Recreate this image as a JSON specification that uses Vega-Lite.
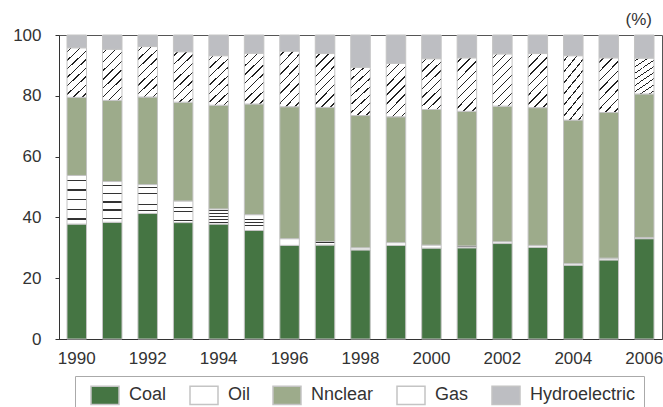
{
  "$schema": "https://vega.github.io/schema/vega-lite/v6.json",
  "width": 603,
  "height": 304,
  "autosize": {"type": "none"},
  "padding": {"left": 59, "top": 35, "right": 1, "bottom": 68},
  "background": "white",
  "title": {"text": "(%)", "anchor": "end", "frame": "group", "fontSize": 17, "fontWeight": "normal", "font": "Liberation Sans", "color": "#333", "dx": -10, "offset": -3},
  "config": {"view": {"stroke": "#555", "strokeWidth": 1}, "font": "Liberation Sans"},
  "data": {"values": [
    {"year": 1990, "source": "Coal", "value": 37.8}, {"year": 1990, "source": "Oil", "value": 16.0}, {"year": 1990, "source": "Nnclear", "value": 25.7}, {"year": 1990, "source": "Gas", "value": 16.3}, {"year": 1990, "source": "Hydroelectric", "value": 4.2},
    {"year": 1991, "source": "Coal", "value": 38.4}, {"year": 1991, "source": "Oil", "value": 13.4}, {"year": 1991, "source": "Nnclear", "value": 26.7}, {"year": 1991, "source": "Gas", "value": 16.8}, {"year": 1991, "source": "Hydroelectric", "value": 4.7},
    {"year": 1992, "source": "Coal", "value": 41.3}, {"year": 1992, "source": "Oil", "value": 9.5}, {"year": 1992, "source": "Nnclear", "value": 28.8}, {"year": 1992, "source": "Gas", "value": 16.6}, {"year": 1992, "source": "Hydroelectric", "value": 3.8},
    {"year": 1993, "source": "Coal", "value": 38.3}, {"year": 1993, "source": "Oil", "value": 7.1}, {"year": 1993, "source": "Nnclear", "value": 32.5}, {"year": 1993, "source": "Gas", "value": 16.6}, {"year": 1993, "source": "Hydroelectric", "value": 5.5},
    {"year": 1994, "source": "Coal", "value": 37.8}, {"year": 1994, "source": "Oil", "value": 5.0}, {"year": 1994, "source": "Nnclear", "value": 34.1}, {"year": 1994, "source": "Gas", "value": 16.3}, {"year": 1994, "source": "Hydroelectric", "value": 6.8},
    {"year": 1995, "source": "Coal", "value": 35.7}, {"year": 1995, "source": "Oil", "value": 5.2}, {"year": 1995, "source": "Nnclear", "value": 36.4}, {"year": 1995, "source": "Gas", "value": 16.7}, {"year": 1995, "source": "Hydroelectric", "value": 6.0},
    {"year": 1996, "source": "Coal", "value": 30.8}, {"year": 1996, "source": "Oil", "value": 2.2}, {"year": 1996, "source": "Nnclear", "value": 43.4}, {"year": 1996, "source": "Gas", "value": 18.3}, {"year": 1996, "source": "Hydroelectric", "value": 5.3},
    {"year": 1997, "source": "Coal", "value": 30.9}, {"year": 1997, "source": "Oil", "value": 1.2}, {"year": 1997, "source": "Nnclear", "value": 44.1}, {"year": 1997, "source": "Gas", "value": 17.7}, {"year": 1997, "source": "Hydroelectric", "value": 6.1},
    {"year": 1998, "source": "Coal", "value": 29.3}, {"year": 1998, "source": "Oil", "value": 0.7}, {"year": 1998, "source": "Nnclear", "value": 43.5}, {"year": 1998, "source": "Gas", "value": 15.9}, {"year": 1998, "source": "Hydroelectric", "value": 10.6},
    {"year": 1999, "source": "Coal", "value": 30.8}, {"year": 1999, "source": "Oil", "value": 0.9}, {"year": 1999, "source": "Nnclear", "value": 41.4}, {"year": 1999, "source": "Gas", "value": 17.6}, {"year": 1999, "source": "Hydroelectric", "value": 9.3},
    {"year": 2000, "source": "Coal", "value": 29.9}, {"year": 2000, "source": "Oil", "value": 1.0}, {"year": 2000, "source": "Nnclear", "value": 44.6}, {"year": 2000, "source": "Gas", "value": 16.7}, {"year": 2000, "source": "Hydroelectric", "value": 7.8},
    {"year": 2001, "source": "Coal", "value": 30.0}, {"year": 2001, "source": "Oil", "value": 0.6}, {"year": 2001, "source": "Nnclear", "value": 44.3}, {"year": 2001, "source": "Gas", "value": 17.6}, {"year": 2001, "source": "Hydroelectric", "value": 7.5},
    {"year": 2002, "source": "Coal", "value": 31.4}, {"year": 2002, "source": "Oil", "value": 0.6}, {"year": 2002, "source": "Nnclear", "value": 44.6}, {"year": 2002, "source": "Gas", "value": 17.2}, {"year": 2002, "source": "Hydroelectric", "value": 6.2},
    {"year": 2003, "source": "Coal", "value": 30.2}, {"year": 2003, "source": "Oil", "value": 0.6}, {"year": 2003, "source": "Nnclear", "value": 45.3}, {"year": 2003, "source": "Gas", "value": 17.8}, {"year": 2003, "source": "Hydroelectric", "value": 6.1},
    {"year": 2004, "source": "Coal", "value": 24.3}, {"year": 2004, "source": "Oil", "value": 0.5}, {"year": 2004, "source": "Nnclear", "value": 47.2}, {"year": 2004, "source": "Gas", "value": 21.2}, {"year": 2004, "source": "Hydroelectric", "value": 6.8},
    {"year": 2005, "source": "Coal", "value": 26.0}, {"year": 2005, "source": "Oil", "value": 0.6}, {"year": 2005, "source": "Nnclear", "value": 47.9}, {"year": 2005, "source": "Gas", "value": 18.0}, {"year": 2005, "source": "Hydroelectric", "value": 7.5},
    {"year": 2006, "source": "Coal", "value": 33.0}, {"year": 2006, "source": "Oil", "value": 0.4}, {"year": 2006, "source": "Nnclear", "value": 47.2}, {"year": 2006, "source": "Gas", "value": 11.8}, {"year": 2006, "source": "Hydroelectric", "value": 7.6}
  ]},
  "transform": [
    {"calculate": "indexof(['Coal', 'Oil', 'Nnclear', 'Gas', 'Hydroelectric'], datum.source)", "as": "rank"}
  ],
  "mark": {"type": "bar", "stroke": "#c4c4c4", "strokeWidth": 1},
  "encoding": {
    "x": {
      "field": "year", "type": "ordinal",
      "scale": {"paddingInner": 0.45, "paddingOuter": 0.226},
      "axis": {"values": [1990, 1992, 1994, 1996, 1998, 2000, 2002, 2004, 2006], "title": null, "labelAngle": 0, "ticks": false, "labelPadding": 11, "labelFontSize": 17, "labelColor": "#333", "domainColor": "#333", "labelFont": "Liberation Sans"}
    },
    "y": {
      "field": "value", "type": "quantitative", "stack": "zero",
      "scale": {"domain": [0, 100], "nice": false},
      "axis": {"values": [0, 20, 40, 60, 80, 100], "title": null, "grid": false, "tickSize": 4, "tickColor": "#333", "domainColor": "#333", "labelPadding": 14, "labelFontSize": 17, "labelColor": "#333", "labelFont": "Liberation Sans"}
    },
    "order": {"field": "rank", "type": "quantitative", "sort": "ascending"},
    "fill": {
      "field": "source", "type": "nominal",
      "scale": {"domain": ["Coal", "Oil", "Nnclear", "Gas", "Hydroelectric"], "range": ["#457543", "#ffffff", "#9dab8b", "#ffffff", "#bdbec2"]},
      "condition": [
        {"test": "datum.source === 'Gas'", "value": {"gradient": "linear", "x1": 0, "y1": 0, "x2": 0.446, "y2": 1.205, "stops": [
          {"offset": 0, "color": "#ffffff"},
          {"offset": 0.0525, "color": "#ffffff"}, {"offset": 0.0525, "color": "#222222"}, {"offset": 0.0725, "color": "#222222"}, {"offset": 0.0725, "color": "#ffffff"},
          {"offset": 0.1775, "color": "#ffffff"}, {"offset": 0.1775, "color": "#222222"}, {"offset": 0.1975, "color": "#222222"}, {"offset": 0.1975, "color": "#ffffff"},
          {"offset": 0.3025, "color": "#ffffff"}, {"offset": 0.3025, "color": "#222222"}, {"offset": 0.3225, "color": "#222222"}, {"offset": 0.3225, "color": "#ffffff"},
          {"offset": 0.4275, "color": "#ffffff"}, {"offset": 0.4275, "color": "#222222"}, {"offset": 0.4475, "color": "#222222"}, {"offset": 0.4475, "color": "#ffffff"},
          {"offset": 0.5525, "color": "#ffffff"}, {"offset": 0.5525, "color": "#222222"}, {"offset": 0.5725, "color": "#222222"}, {"offset": 0.5725, "color": "#ffffff"},
          {"offset": 0.6775, "color": "#ffffff"}, {"offset": 0.6775, "color": "#222222"}, {"offset": 0.6975, "color": "#222222"}, {"offset": 0.6975, "color": "#ffffff"},
          {"offset": 0.8025, "color": "#ffffff"}, {"offset": 0.8025, "color": "#222222"}, {"offset": 0.8225, "color": "#222222"}, {"offset": 0.8225, "color": "#ffffff"},
          {"offset": 0.9275, "color": "#ffffff"}, {"offset": 0.9275, "color": "#222222"}, {"offset": 0.9475, "color": "#222222"}, {"offset": 0.9475, "color": "#ffffff"},
          {"offset": 1, "color": "#ffffff"}
        ]}},
        {"test": "datum.source === 'Oil'", "value": {"gradient": "linear", "x1": 0, "y1": 0, "x2": 0, "y2": 1, "stops": [
          {"offset": 0, "color": "#ffffff"},
          {"offset": 0.085, "color": "#ffffff"}, {"offset": 0.085, "color": "#333333"}, {"offset": 0.115, "color": "#333333"}, {"offset": 0.115, "color": "#ffffff"},
          {"offset": 0.285, "color": "#ffffff"}, {"offset": 0.285, "color": "#333333"}, {"offset": 0.315, "color": "#333333"}, {"offset": 0.315, "color": "#ffffff"},
          {"offset": 0.485, "color": "#ffffff"}, {"offset": 0.485, "color": "#333333"}, {"offset": 0.515, "color": "#333333"}, {"offset": 0.515, "color": "#ffffff"},
          {"offset": 0.685, "color": "#ffffff"}, {"offset": 0.685, "color": "#333333"}, {"offset": 0.715, "color": "#333333"}, {"offset": 0.715, "color": "#ffffff"},
          {"offset": 0.885, "color": "#ffffff"}, {"offset": 0.885, "color": "#333333"}, {"offset": 0.915, "color": "#333333"}, {"offset": 0.915, "color": "#ffffff"},
          {"offset": 1, "color": "#ffffff"}
        ]}}
      ],
      "legend": {
        "orient": "none", "legendX": 16, "legendY": 341, "direction": "horizontal", "title": null,
        "strokeColor": "#aaaaaa", "padding": 8,
        "symbolType": "M-1.4,-0.92H1.4V0.92H-1.4Z", "symbolSize": 400,
        "symbolOffset": 11, "labelOffset": 13, "columnPadding": 15,
        "labelFontSize": 18, "labelColor": "#333", "labelFont": "Liberation Sans",
        "encode": {"symbols": {"update": {
          "stroke": {"value": "#aaaaaa"},
          "strokeWidth": {"value": 1}
        }}}
      }
    }
  }
}
